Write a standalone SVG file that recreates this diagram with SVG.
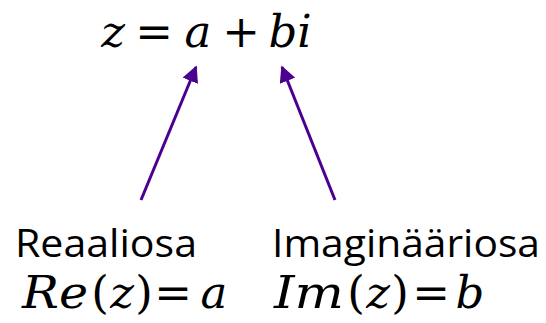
<svg xmlns="http://www.w3.org/2000/svg" width="546" height="323" viewBox="0 0 546 323">
<style>
.m,.u{font-family:"DejaVu Serif","Liberation Serif",serif;font-size:45px;fill:#000;text-anchor:middle}
.m{font-style:italic}
.s{font-family:"Open Sans","Liberation Sans",sans-serif;font-size:39px;fill:#000}
.c{stroke:#4b0090;stroke-width:3;fill:none;marker-end:url(#ah)}
</style>
<defs>
<marker id="ah" viewBox="0 0 10 10" refX="9" refY="5" markerWidth="5.5" markerHeight="5.5" orient="auto" markerUnits="strokeWidth">
<path d="M0,0 L10,5 L0,10 z" fill="#4b0090"/>
</marker>
</defs>
<g id="formula">
<text class="m" x="113" y="47">z</text>
<text class="u" x="154" y="47">=</text>
<text class="m" x="198" y="47">a</text>
<text class="u" x="241" y="47">+</text>
<text class="m" x="290" y="47">bi</text>
</g>
<g id="connectors">
<line class="c" x1="141" y1="200" x2="196" y2="67"/>
<line class="c" x1="335" y1="200" x2="282" y2="67"/>
</g>
<g id="real">
<text class="s" x="15" y="257" textLength="182" lengthAdjust="spacingAndGlyphs">Reaaliosa</text>
<text class="m" x="55" y="308" textLength="66" lengthAdjust="spacingAndGlyphs">Re</text>
<text class="u" x="100" y="308">(</text>
<text class="m" x="122" y="308">z</text>
<text class="u" x="144" y="308">)</text>
<text class="u" x="173" y="308">=</text>
<text class="m" x="214" y="308">a</text>
</g>
<g id="imag">
<text class="s" x="272" y="257" textLength="268" lengthAdjust="spacingAndGlyphs">Imaginääriosa</text>
<text class="m" x="309" y="308" textLength="70" lengthAdjust="spacingAndGlyphs">Im</text>
<text class="u" x="356" y="308">(</text>
<text class="m" x="378" y="308">z</text>
<text class="u" x="400" y="308">)</text>
<text class="u" x="431" y="308">=</text>
<text class="m" x="470" y="308">b</text>
</g>
</svg>
